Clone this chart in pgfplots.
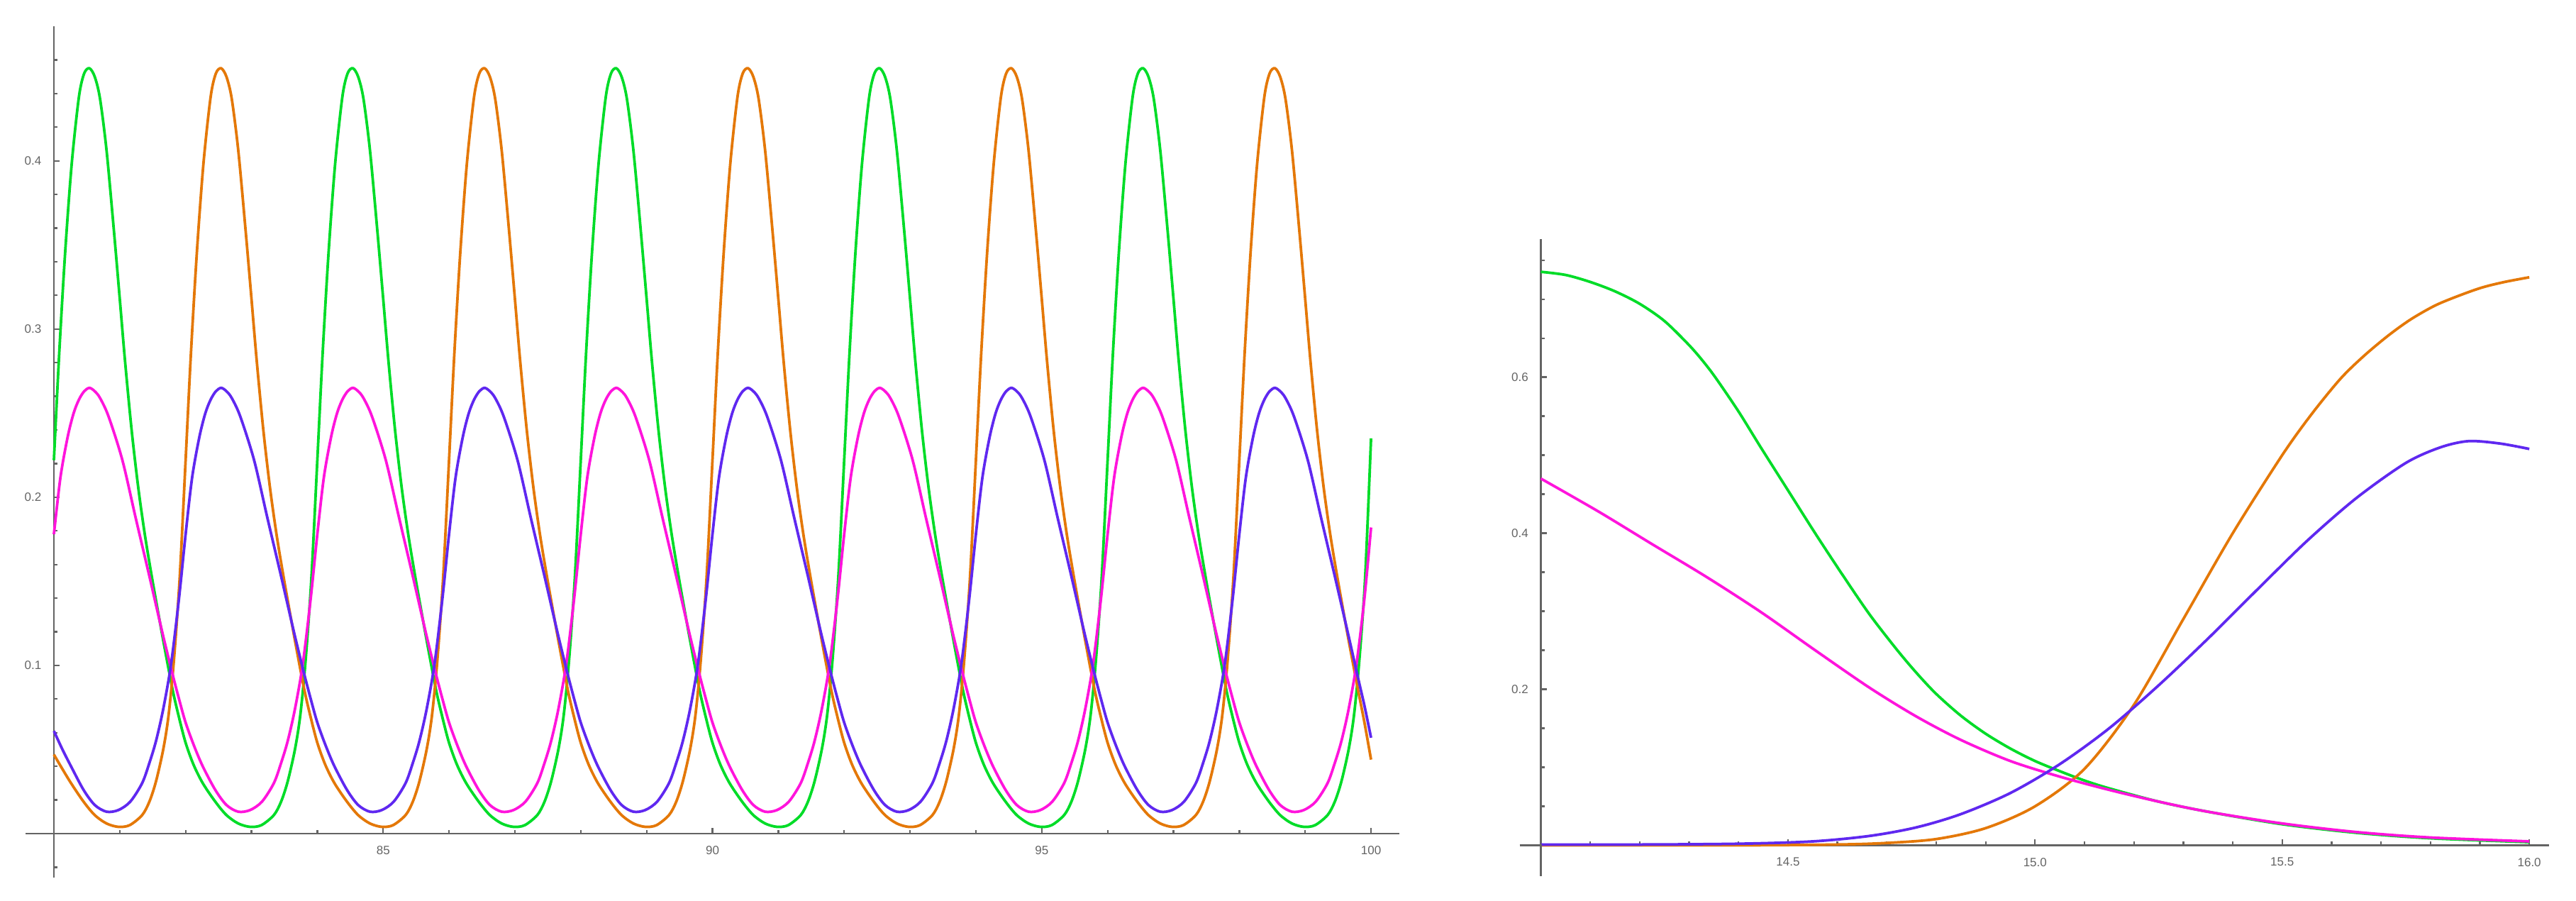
\documentclass[border=0pt]{standalone}
\usepackage{fontspec}
\setmainfont{Liberation Sans}
\usepackage{pgfplots}
\pgfplotsset{compat=1.18}

\definecolor{cgreen}{RGB}{0,220,40}
\definecolor{corange}{RGB}{228,120,8}
\definecolor{cpink}{RGB}{255,20,220}
\definecolor{cblue}{RGB}{95,40,240}
\definecolor{axgray}{RGB}{100,100,100}

\pgfplotsset{mma/.style={
    scale only axis,
    anchor=south west,
    axis lines=left,
    axis line style={-, axgray, line width=0.55pt},
    tick align=inside,
    major tick length=1.6pt,
    minor tick length=1pt,
    tick style={axgray, line width=0.45pt},
    tick label style={font=\fontsize{3.4}{4}\selectfont, text=axgray},
    /pgf/number format/assume math mode=true,
    clip=false,
    every axis plot/.append style={line width=0.75pt, smooth, no markers},
}}

\begin{document}
\begin{tikzpicture}
\path[use as bounding box] (0,0) rectangle (726.4pt,254pt);

% left panel: t = 80..100
\begin{axis}[mma,
    at={(15.2pt,19pt)},
    width=379.4pt, height=227.6pt,
    xmin=80, xmax=100.43, ymin=0, ymax=0.48,
    xtick={85,90,95,100}, xticklabels={85,90,95,100},
    minor xtick={81,82,83,84,86,87,88,89,91,92,93,94,96,97,98,99},
    ytick={0.1,0.2,0.3,0.4}, yticklabels={0.1,0.2,0.3,0.4},
    minor ytick={0.02,0.04,0.06,0.08,0.12,0.14,0.16,0.18,0.22,0.24,0.26,0.28,0.32,0.34,0.36,0.38,0.42,0.44,0.46},
]
% green
\addplot[cgreen] coordinates {
(80.00,0.222)(80.08,0.285)(80.17,0.345)(80.27,0.398)(80.38,0.438)(80.46,0.452)(80.54,0.455)(80.62,0.450)(80.70,0.437)(80.80,0.406)(80.91,0.359)(81.00,0.318)(81.08,0.281)(81.18,0.240)(81.28,0.206)(81.38,0.178)(81.49,0.152)(81.65,0.117)(81.80,0.086)(81.90,0.069)(82.00,0.054)(82.12,0.041)(82.26,0.030)(82.45,0.019)(82.62,0.011)(82.80,0.006)(82.98,0.004)(83.15,0.005)(83.34,0.011)(83.45,0.019)(83.55,0.031)(83.66,0.050)(83.74,0.070)(83.82,0.102)(83.91,0.152)
(84.00,0.222)(84.08,0.285)(84.17,0.345)(84.27,0.398)(84.38,0.438)(84.46,0.452)(84.54,0.455)(84.62,0.450)(84.70,0.437)(84.80,0.406)(84.91,0.359)(85.00,0.318)(85.08,0.281)(85.18,0.240)(85.28,0.206)(85.38,0.178)(85.49,0.152)(85.65,0.117)(85.80,0.086)(85.90,0.069)(86.00,0.054)(86.12,0.041)(86.26,0.030)(86.45,0.019)(86.62,0.011)(86.80,0.006)(86.98,0.004)(87.15,0.005)(87.34,0.011)(87.45,0.019)(87.55,0.031)(87.66,0.050)(87.74,0.070)(87.82,0.102)(87.91,0.152)
(88.00,0.222)(88.08,0.285)(88.17,0.345)(88.27,0.398)(88.38,0.438)(88.46,0.452)(88.54,0.455)(88.62,0.450)(88.70,0.437)(88.80,0.406)(88.91,0.359)(89.00,0.318)(89.08,0.281)(89.18,0.240)(89.28,0.206)(89.38,0.178)(89.49,0.152)(89.65,0.117)(89.80,0.086)(89.90,0.069)(90.00,0.054)(90.12,0.041)(90.26,0.030)(90.45,0.019)(90.62,0.011)(90.80,0.006)(90.98,0.004)(91.15,0.005)(91.34,0.011)(91.45,0.019)(91.55,0.031)(91.66,0.050)(91.74,0.070)(91.82,0.102)(91.91,0.152)
(92.00,0.222)(92.08,0.285)(92.17,0.345)(92.27,0.398)(92.38,0.438)(92.46,0.452)(92.54,0.455)(92.62,0.450)(92.70,0.437)(92.80,0.406)(92.91,0.359)(93.00,0.318)(93.08,0.281)(93.18,0.240)(93.28,0.206)(93.38,0.178)(93.49,0.152)(93.65,0.117)(93.80,0.086)(93.90,0.069)(94.00,0.054)(94.12,0.041)(94.26,0.030)(94.45,0.019)(94.62,0.011)(94.80,0.006)(94.98,0.004)(95.15,0.005)(95.34,0.011)(95.45,0.019)(95.55,0.031)(95.66,0.050)(95.74,0.070)(95.82,0.102)(95.91,0.152)
(96.00,0.222)(96.08,0.285)(96.17,0.345)(96.27,0.398)(96.38,0.438)(96.46,0.452)(96.54,0.455)(96.62,0.450)(96.70,0.437)(96.80,0.406)(96.91,0.359)(97.00,0.318)(97.08,0.281)(97.18,0.240)(97.28,0.206)(97.38,0.178)(97.49,0.152)(97.65,0.117)(97.80,0.086)(97.90,0.069)(98.00,0.054)(98.12,0.041)(98.26,0.030)(98.45,0.019)(98.62,0.011)(98.80,0.006)(98.98,0.004)(99.15,0.005)(99.34,0.011)(99.45,0.019)(99.55,0.031)(99.66,0.050)(99.74,0.070)(99.82,0.102)(99.91,0.152)
(100.00,0.235)
};
% orange
\addplot[corange] coordinates {
(80.00,0.047)(80.12,0.039)(80.26,0.030)(80.45,0.019)(80.62,0.011)(80.80,0.006)(80.98,0.004)(81.15,0.005)(81.34,0.011)(81.45,0.019)(81.55,0.031)(81.66,0.050)(81.74,0.070)(81.82,0.102)(81.91,0.152)(82.00,0.222)(82.08,0.285)(82.17,0.345)(82.27,0.398)(82.38,0.438)(82.46,0.452)(82.54,0.455)(82.62,0.450)(82.70,0.437)(82.80,0.406)(82.91,0.359)(83.00,0.318)(83.08,0.281)(83.18,0.240)(83.28,0.206)(83.38,0.178)(83.49,0.152)(83.65,0.117)(83.80,0.086)(83.90,0.069)
(84.00,0.054)(84.12,0.041)(84.26,0.030)(84.45,0.019)(84.62,0.011)(84.80,0.006)(84.98,0.004)(85.15,0.005)(85.34,0.011)(85.45,0.019)(85.55,0.031)(85.66,0.050)(85.74,0.070)(85.82,0.102)(85.91,0.152)(86.00,0.222)(86.08,0.285)(86.17,0.345)(86.27,0.398)(86.38,0.438)(86.46,0.452)(86.54,0.455)(86.62,0.450)(86.70,0.437)(86.80,0.406)(86.91,0.359)(87.00,0.318)(87.08,0.281)(87.18,0.240)(87.28,0.206)(87.38,0.178)(87.49,0.152)(87.65,0.117)(87.80,0.086)(87.90,0.069)
(88.00,0.054)(88.12,0.041)(88.26,0.030)(88.45,0.019)(88.62,0.011)(88.80,0.006)(88.98,0.004)(89.15,0.005)(89.34,0.011)(89.45,0.019)(89.55,0.031)(89.66,0.050)(89.74,0.070)(89.82,0.102)(89.91,0.152)(90.00,0.222)(90.08,0.285)(90.17,0.345)(90.27,0.398)(90.38,0.438)(90.46,0.452)(90.54,0.455)(90.62,0.450)(90.70,0.437)(90.80,0.406)(90.91,0.359)(91.00,0.318)(91.08,0.281)(91.18,0.240)(91.28,0.206)(91.38,0.178)(91.49,0.152)(91.65,0.117)(91.80,0.086)(91.90,0.069)
(92.00,0.054)(92.12,0.041)(92.26,0.030)(92.45,0.019)(92.62,0.011)(92.80,0.006)(92.98,0.004)(93.15,0.005)(93.34,0.011)(93.45,0.019)(93.55,0.031)(93.66,0.050)(93.74,0.070)(93.82,0.102)(93.91,0.152)(94.00,0.222)(94.08,0.285)(94.17,0.345)(94.27,0.398)(94.38,0.438)(94.46,0.452)(94.54,0.455)(94.62,0.450)(94.70,0.437)(94.80,0.406)(94.91,0.359)(95.00,0.318)(95.08,0.281)(95.18,0.240)(95.28,0.206)(95.38,0.178)(95.49,0.152)(95.65,0.117)(95.80,0.086)(95.90,0.069)
(96.00,0.054)(96.12,0.041)(96.26,0.030)(96.45,0.019)(96.62,0.011)(96.80,0.006)(96.98,0.004)(97.15,0.005)(97.34,0.011)(97.45,0.019)(97.55,0.031)(97.66,0.050)(97.74,0.070)(97.82,0.102)(97.91,0.152)(98.00,0.222)(98.08,0.285)(98.17,0.345)(98.27,0.398)(98.38,0.438)(98.46,0.452)(98.54,0.455)(98.62,0.450)(98.70,0.437)(98.80,0.406)(98.91,0.359)(99.00,0.318)(99.08,0.281)(99.18,0.240)(99.28,0.206)(99.38,0.178)(99.49,0.152)(99.65,0.117)(99.80,0.086)(99.90,0.066)
(100.00,0.044)
};
% magenta
\addplot[cpink] coordinates {
(80.00,0.178)(80.10,0.212)(80.21,0.236)(80.30,0.250)(80.38,0.258)(80.46,0.263)(80.54,0.265)(80.62,0.263)(80.70,0.259)(80.83,0.248)(81.04,0.222)(81.24,0.188)(81.45,0.153)(81.65,0.119)(81.80,0.095)(81.90,0.080)(82.00,0.066)(82.13,0.052)(82.26,0.040)(82.45,0.026)(82.62,0.017)(82.80,0.013)(82.98,0.014)(83.16,0.019)(83.34,0.030)(83.45,0.042)(83.55,0.055)(83.66,0.074)(83.78,0.101)(83.90,0.140)
(84.00,0.178)(84.10,0.212)(84.21,0.236)(84.30,0.250)(84.38,0.258)(84.46,0.263)(84.54,0.265)(84.62,0.263)(84.70,0.259)(84.83,0.248)(85.04,0.222)(85.24,0.188)(85.45,0.153)(85.65,0.119)(85.80,0.095)(85.90,0.080)(86.00,0.066)(86.13,0.052)(86.26,0.040)(86.45,0.026)(86.62,0.017)(86.80,0.013)(86.98,0.014)(87.16,0.019)(87.34,0.030)(87.45,0.042)(87.55,0.055)(87.66,0.074)(87.78,0.101)(87.90,0.140)
(88.00,0.178)(88.10,0.212)(88.21,0.236)(88.30,0.250)(88.38,0.258)(88.46,0.263)(88.54,0.265)(88.62,0.263)(88.70,0.259)(88.83,0.248)(89.04,0.222)(89.24,0.188)(89.45,0.153)(89.65,0.119)(89.80,0.095)(89.90,0.080)(90.00,0.066)(90.13,0.052)(90.26,0.040)(90.45,0.026)(90.62,0.017)(90.80,0.013)(90.98,0.014)(91.16,0.019)(91.34,0.030)(91.45,0.042)(91.55,0.055)(91.66,0.074)(91.78,0.101)(91.90,0.140)
(92.00,0.178)(92.10,0.212)(92.21,0.236)(92.30,0.250)(92.38,0.258)(92.46,0.263)(92.54,0.265)(92.62,0.263)(92.70,0.259)(92.83,0.248)(93.04,0.222)(93.24,0.188)(93.45,0.153)(93.65,0.119)(93.80,0.095)(93.90,0.080)(94.00,0.066)(94.13,0.052)(94.26,0.040)(94.45,0.026)(94.62,0.017)(94.80,0.013)(94.98,0.014)(95.16,0.019)(95.34,0.030)(95.45,0.042)(95.55,0.055)(95.66,0.074)(95.78,0.101)(95.90,0.140)
(96.00,0.178)(96.10,0.212)(96.21,0.236)(96.30,0.250)(96.38,0.258)(96.46,0.263)(96.54,0.265)(96.62,0.263)(96.70,0.259)(96.83,0.248)(97.04,0.222)(97.24,0.188)(97.45,0.153)(97.65,0.119)(97.80,0.095)(97.90,0.080)(98.00,0.066)(98.13,0.052)(98.26,0.040)(98.45,0.026)(98.62,0.017)(98.80,0.013)(98.98,0.014)(99.16,0.019)(99.34,0.030)(99.45,0.042)(99.55,0.055)(99.66,0.074)(99.78,0.101)(99.90,0.140)
(100.00,0.182)
};
% blue
\addplot[cblue] coordinates {
(80.00,0.061)(80.13,0.050)(80.26,0.040)(80.45,0.026)(80.62,0.017)(80.80,0.013)(80.98,0.014)(81.16,0.019)(81.34,0.030)(81.45,0.042)(81.55,0.055)(81.66,0.074)(81.78,0.101)(81.90,0.140)(82.00,0.178)(82.10,0.212)(82.21,0.236)(82.30,0.250)(82.38,0.258)(82.46,0.263)(82.54,0.265)(82.62,0.263)(82.70,0.259)(82.83,0.248)(83.04,0.222)(83.24,0.188)(83.45,0.153)(83.65,0.119)(83.80,0.095)(83.90,0.080)
(84.00,0.066)(84.13,0.052)(84.26,0.040)(84.45,0.026)(84.62,0.017)(84.80,0.013)(84.98,0.014)(85.16,0.019)(85.34,0.030)(85.45,0.042)(85.55,0.055)(85.66,0.074)(85.78,0.101)(85.90,0.140)(86.00,0.178)(86.10,0.212)(86.21,0.236)(86.30,0.250)(86.38,0.258)(86.46,0.263)(86.54,0.265)(86.62,0.263)(86.70,0.259)(86.83,0.248)(87.04,0.222)(87.24,0.188)(87.45,0.153)(87.65,0.119)(87.80,0.095)(87.90,0.080)
(88.00,0.066)(88.13,0.052)(88.26,0.040)(88.45,0.026)(88.62,0.017)(88.80,0.013)(88.98,0.014)(89.16,0.019)(89.34,0.030)(89.45,0.042)(89.55,0.055)(89.66,0.074)(89.78,0.101)(89.90,0.140)(90.00,0.178)(90.10,0.212)(90.21,0.236)(90.30,0.250)(90.38,0.258)(90.46,0.263)(90.54,0.265)(90.62,0.263)(90.70,0.259)(90.83,0.248)(91.04,0.222)(91.24,0.188)(91.45,0.153)(91.65,0.119)(91.80,0.095)(91.90,0.080)
(92.00,0.066)(92.13,0.052)(92.26,0.040)(92.45,0.026)(92.62,0.017)(92.80,0.013)(92.98,0.014)(93.16,0.019)(93.34,0.030)(93.45,0.042)(93.55,0.055)(93.66,0.074)(93.78,0.101)(93.90,0.140)(94.00,0.178)(94.10,0.212)(94.21,0.236)(94.30,0.250)(94.38,0.258)(94.46,0.263)(94.54,0.265)(94.62,0.263)(94.70,0.259)(94.83,0.248)(95.04,0.222)(95.24,0.188)(95.45,0.153)(95.65,0.119)(95.80,0.095)(95.90,0.080)
(96.00,0.066)(96.13,0.052)(96.26,0.040)(96.45,0.026)(96.62,0.017)(96.80,0.013)(96.98,0.014)(97.16,0.019)(97.34,0.030)(97.45,0.042)(97.55,0.055)(97.66,0.074)(97.78,0.101)(97.90,0.140)(98.00,0.178)(98.10,0.212)(98.21,0.236)(98.30,0.250)(98.38,0.258)(98.46,0.263)(98.54,0.265)(98.62,0.263)(98.70,0.259)(98.83,0.248)(99.04,0.222)(99.24,0.188)(99.45,0.153)(99.65,0.119)(99.80,0.093)(99.90,0.076)
(100.00,0.057)
};
% axis extensions past the origin, as drawn by the original
\draw[axgray, line width=0.55pt] (axis cs:79.57,0) -- (axis cs:80,0) -- (axis cs:80,-0.026);
\draw[axgray, line width=0.45pt] (axis cs:80,-0.02) -- (axis cs:80.055,-0.02);
\end{axis}

% right panel: t = 14..16
\begin{axis}[mma,
    at={(434.5pt,15.7pt)},
    width=284.3pt, height=170.9pt,
    xmin=14, xmax=16.04, ymin=0, ymax=0.777,
    xtick={14.5,15,15.5,16}, xticklabels={14.5,15.0,15.5,16.0},
    minor xtick={14.1,14.2,14.3,14.4,14.6,14.7,14.8,14.9,15.1,15.2,15.3,15.4,15.6,15.7,15.8,15.9},
    ytick={0.2,0.4,0.6}, yticklabels={0.2,0.4,0.6},
    minor ytick={0.05,0.1,0.15,0.25,0.3,0.35,0.45,0.5,0.55,0.65,0.7,0.75},
]
% green
\addplot[cgreen] coordinates {
(14.00,0.735)(14.05,0.731)(14.10,0.722)(14.15,0.710)(14.20,0.694)(14.25,0.672)(14.30,0.641)(14.33,0.619)(14.355,0.598)(14.40,0.556)(14.445,0.510)(14.50,0.455)(14.555,0.400)(14.61,0.347)(14.665,0.296)(14.72,0.251)(14.76,0.221)(14.80,0.194)(14.85,0.166)(14.90,0.143)(14.95,0.124)(15.00,0.108)(15.05,0.095)(15.10,0.083)(15.15,0.073)(15.25,0.056)(15.35,0.043)(15.50,0.027)(15.65,0.016)(15.80,0.009)(16.00,0.004)
};
% orange
\addplot[corange] coordinates {
(14.00,0.000)(14.40,0.000)(14.60,0.001)(14.70,0.003)(14.80,0.008)(14.90,0.022)(15.00,0.050)(15.10,0.098)(15.20,0.180)(15.30,0.290)(15.40,0.400)(15.50,0.500)(15.56,0.553)(15.618,0.598)(15.665,0.627)(15.714,0.653)(15.76,0.674)(15.81,0.692)(15.86,0.705)(15.905,0.715)(15.95,0.722)(16.00,0.728)
};
% magenta
\addplot[cpink] coordinates {
(14.00,0.470)(14.116,0.428)(14.225,0.386)(14.335,0.344)(14.445,0.299)(14.555,0.250)(14.665,0.202)(14.76,0.165)(14.85,0.135)(14.95,0.108)(15.05,0.088)(15.15,0.071)(15.25,0.056)(15.35,0.043)(15.50,0.028)(15.65,0.017)(15.80,0.010)(16.00,0.005)
};
% blue
\addplot[cblue] coordinates {
(14.00,0.001)(14.20,0.001)(14.40,0.002)(14.55,0.005)(14.665,0.012)(14.76,0.023)(14.85,0.040)(14.95,0.067)(15.05,0.104)(15.15,0.150)(15.25,0.205)(15.35,0.265)(15.45,0.328)(15.55,0.390)(15.65,0.445)(15.75,0.490)(15.82,0.510)(15.877,0.518)(15.94,0.515)(16.00,0.508)
};
\draw[axgray, line width=0.55pt] (axis cs:13.957,0) -- (axis cs:14,0) -- (axis cs:14,-0.04);
\end{axis}
\end{tikzpicture}
\end{document}
